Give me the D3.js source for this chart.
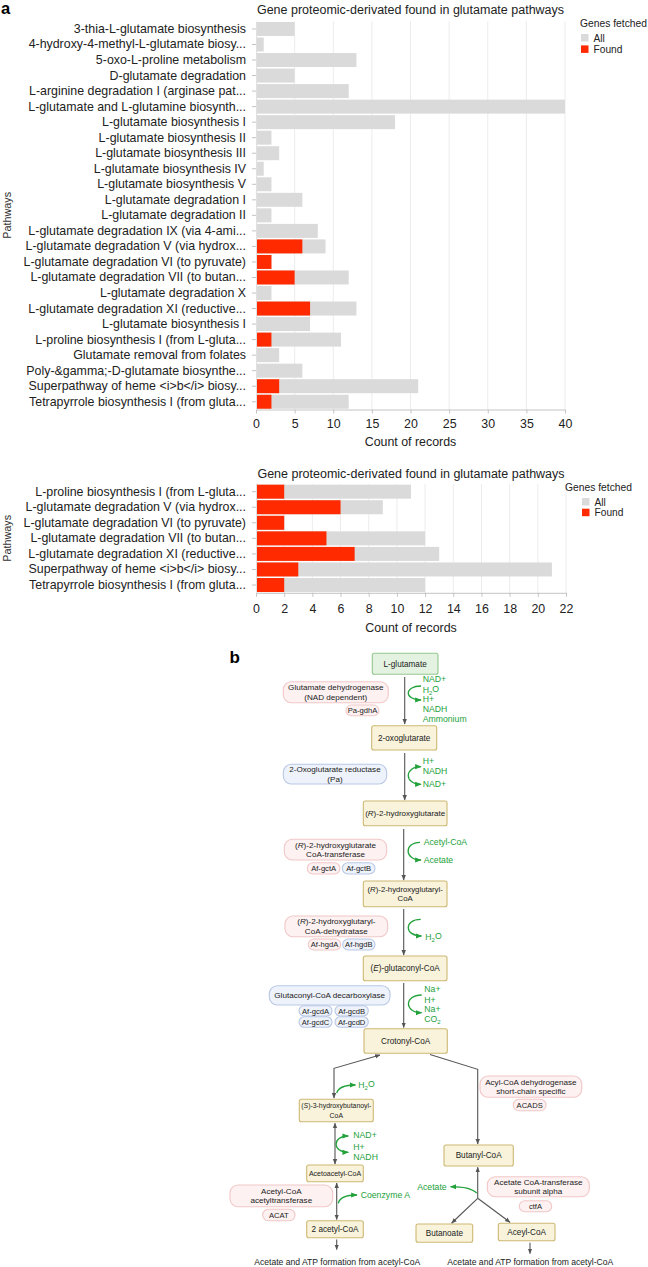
<!DOCTYPE html>
<html>
<head>
<meta charset="utf-8">
<script src="https://cdn.jsdelivr.net/npm/d3@7"></script>
<style>
  body { margin: 0; background: #fff; }
  text { font-family: "Liberation Sans", Arial, Helvetica, sans-serif; }
</style>
</head>
<body>
<svg id="fig" width="648" height="1267"></svg>
<script>
// ---- data: panel a, top chart ----
const pathwaysTop = [
  "3-thia-L-glutamate biosynthesis",
  "4-hydroxy-4-methyl-L-glutamate biosy...",
  "5-oxo-L-proline metabolism",
  "D-glutamate degradation",
  "L-arginine degradation I (arginase pat...",
  "L-glutamate and L-glutamine biosynth...",
  "L-glutamate biosynthesis I",
  "L-glutamate biosynthesis II",
  "L-glutamate biosynthesis III",
  "L-glutamate biosynthesis IV",
  "L-glutamate biosynthesis V",
  "L-glutamate degradation I",
  "L-glutamate degradation II",
  "L-glutamate degradation IX (via 4-ami...",
  "L-glutamate degradation V (via hydrox...",
  "L-glutamate degradation VI (to pyruvate)",
  "L-glutamate degradation VII (to butan...",
  "L-glutamate degradation X",
  "L-glutamate degradation XI (reductive...",
  "L-glutamate biosynthesis I",
  "L-proline biosynthesis I (from L-gluta...",
  "Glutamate removal from folates",
  "Poly-&gamma;-D-glutamate biosynthe...",
  "Superpathway of heme <i>b</i> biosy...",
  "Tetrapyrrole biosynthesis I (from gluta..."
];
const allTop   = [5, 1, 13, 5, 12, 40, 18, 2, 3, 1, 2, 6, 2, 8, 9, 2, 12, 2, 13, 7, 11, 3, 6, 21, 12];
const foundTop = [0, 0, 0, 0, 0, 0, 0, 0, 0, 0, 0, 0, 0, 0, 6, 2, 5, 0, 7, 0, 2, 0, 0, 3, 2];
const ticksTop = [0, 5, 10, 15, 20, 25, 30, 35, 40];

// ---- data: panel a, bottom chart ----
const pathwaysBottom = [
  "L-proline biosynthesis I (from L-gluta...",
  "L-glutamate degradation V (via hydrox...",
  "L-glutamate degradation VI (to pyruvate)",
  "L-glutamate degradation VII (to butan...",
  "L-glutamate degradation XI (reductive...",
  "Superpathway of heme <i>b</i> biosy...",
  "Tetrapyrrole biosynthesis I (from gluta..."
];
const allBottom   = [11, 9, 2, 12, 13, 21, 12];
const foundBottom = [2, 6, 2, 5, 7, 3, 2];
const ticksBottom = [0, 2, 4, 6, 8, 10, 12, 14, 16, 18, 20, 22];

const chartTitle = "Gene proteomic-derivated found in glutamate pathways";
const legendTitle = "Genes fetched";
const seriesNames = ["All", "Found"];
const seriesColors = ["#dadada", "#ff2a00"];

// ---- data: panel b (pathway diagram) ----
const compounds = ["L-glutamate", "2-oxoglutarate", "(R)-2-hydroxyglutarate",
  "(R)-2-hydroxyglutaryl-|CoA", "(E)-glutaconyl-CoA", "Crotonyl-CoA",
  "(S)-3-hydroxybutanoyl-|CoA", "Acetoacetyl-CoA", "2 acetyl-CoA",
  "Butanyl-CoA", "Butanoate", "Aceyl-CoA"];
const enzymes = ["Glutamate dehydrogenase|(NAD dependent)", "2-Oxoglutarate reductase|(Pa)",
  "(R)-2-hydroxyglutarate|CoA-transferase", "(R)-2-hydroxyglutaryl-|CoA-dehydratase",
  "Glutaconyl-CoA decarboxylase", "Acyl-CoA dehydrogenase|short-chain specific",
  "Acetate CoA-transferase|subunit alpha", "Acetyl-CoA|acetyltransferase"];
const genes = ["Pa-gdhA", "Af-gctA", "Af-gctB", "Af-hgdA", "Af-hgdB", "Af-gcdA", "Af-gcdB",
  "Af-gcdC", "Af-gcdD", "ACADS", "ctfA", "ACAT"];
const cofactors = [
  ["NAD+", "H|2|O", "H+", "NADH", "Ammonium"],
  ["H+", "NADH", "NAD+"],
  ["Acetyl-CoA", "Acetate"],
  ["H|2|O"],
  ["Na+", "H+", "Na+", "CO|2|"],
  ["H|2|O"],
  ["NAD+", "H+", "NADH"],
  ["Coenzyme A"],
  ["Acetate"]
];
const outcome = "Acetate and ATP formation from acetyl-CoA";

const svg = d3.select("#fig");
const FONT = "'Liberation Sans', Arial, sans-serif";

// ---------- bar charts ----------
function barChart(cfg) {
  const g = svg.append("g");
  const x = d3.scaleLinear().domain([0, d3.max(cfg.ticks)]).range([cfg.left, cfg.right]);
  const y = d3.scaleBand().domain(d3.range(cfg.labels.length))
    .range([cfg.top, cfg.bottom]).paddingInner(0.1).paddingOuter(0.05);

  // grid
  g.selectAll(".grid").data(cfg.ticks.slice(1)).enter().append("line")
    .attr("x1", d => x(d)).attr("x2", d => x(d))
    .attr("y1", cfg.top).attr("y2", cfg.bottom)
    .attr("stroke", "#ececec").attr("stroke-width", 1);

  // bars: all then found on top
  g.selectAll(".all").data(cfg.all).enter().append("rect")
    .attr("x", x(0)).attr("y", (d, i) => y(i))
    .attr("width", d => x(d) - x(0)).attr("height", y.bandwidth())
    .attr("fill", seriesColors[0]);
  g.selectAll(".found").data(cfg.found).enter().append("rect")
    .attr("x", x(0)).attr("y", (d, i) => y(i))
    .attr("width", d => x(d) - x(0)).attr("height", y.bandwidth())
    .attr("fill", seriesColors[1]);

  // axes
  const ax = g.append("g").attr("transform", `translate(0,${cfg.bottom})`)
    .call(d3.axisBottom(x).tickValues(cfg.ticks).tickSize(4).tickPadding(cfg.tickPad).tickSizeOuter(0));
  ax.select(".domain").attr("stroke", "#c4c4c4");
  ax.selectAll(".tick line").attr("stroke", "#c4c4c4");
  ax.selectAll(".tick text").attr("font-size", 12.4).attr("fill", "#222").style("font-family", FONT);

  const ay = g.append("g").attr("transform", `translate(${cfg.left},0)`)
    .call(d3.axisLeft(y).tickFormat(i => cfg.labels[i]).tickSize(4).tickPadding(6).tickSizeOuter(0));
  ay.select(".domain").attr("stroke", "#e0e0e0");
  ay.selectAll(".tick line").attr("stroke", "#c4c4c4");
  ay.selectAll(".tick text").attr("font-size", 12.4).attr("fill", "#222").style("font-family", FONT);

  // title and axis names
  g.append("text").attr("x", (cfg.left + cfg.right) / 2).attr("y", cfg.titleY)
    .attr("text-anchor", "middle").attr("font-size", 12.5).attr("fill", "#222").text(chartTitle);
  g.append("text").attr("x", (cfg.left + cfg.right) / 2).attr("y", cfg.xLabelY)
    .attr("text-anchor", "middle").attr("font-size", 12.4).attr("fill", "#222").text("Count of records");
  g.append("text").attr("transform", `translate(11,${(cfg.top + cfg.bottom) / 2}) rotate(-90)`)
    .attr("text-anchor", "middle").attr("font-size", 10.8).attr("fill", "#333").text("Pathways");

  // legend
  const lg = g.append("g");
  lg.append("text").attr("x", cfg.legTitleX).attr("y", cfg.legY).attr("font-size", 10.3)
    .attr("fill", "#222").text(legendTitle);
  seriesNames.forEach((s, i) => {
    const yy = cfg.legY + 7 + i * cfg.legStep;
    lg.append("rect").attr("x", cfg.legX).attr("y", yy).attr("width", 7.5).attr("height", 7.5)
      .attr("fill", seriesColors[i]);
    lg.append("text").attr("x", cfg.legX + 12.5).attr("y", yy + 7.5).attr("font-size", 10.2)
      .attr("fill", "#222").text(s);
  });
}

barChart({ labels: pathwaysTop, all: allTop, found: foundTop, ticks: ticksTop,
  left: 256, right: 565, top: 21.2, bottom: 409.5, tickPad: 5.5,
  titleY: 13.8, xLabelY: 446, legTitleX: 580, legX: 581, legY: 27, legStep: 11.4 });

barChart({ labels: pathwaysBottom, all: allBottom, found: foundBottom, ticks: ticksBottom,
  left: 256, right: 566, top: 483.9, bottom: 592.8, tickPad: 7.5,
  titleY: 478.3, xLabelY: 631.5, legTitleX: 565, legX: 582, legY: 491, legStep: 10.7 });

// panel letters
svg.append("text").attr("x", 1).attr("y", 13.5).attr("font-size", 16.5).attr("font-weight", "bold").text("a");
svg.append("text").attr("x", 229.5).attr("y", 662.5).attr("font-size", 17).attr("font-weight", "bold").text("b");

// ---------- panel b: pathway diagram ----------
const green = "#23a13b";
const defs = svg.append("defs");
function marker(id, color) {
  defs.append("marker").attr("id", id).attr("viewBox", "0 0 10 10")
    .attr("refX", 9).attr("refY", 5).attr("markerWidth", 5).attr("markerHeight", 5)
    .attr("markerUnits", "strokeWidth").attr("orient", "auto-start-reverse")
    .append("path").attr("d", "M0,1 L10,5 L0,9 z").attr("fill", color);
}
marker("ag", "#555");
marker("agr", green);

// write label lines; "(R)" style letters in italics, "|" separates lines
function richText(sel, str) {
  const m = str.match(/^\((R|E|S)\)(.*)$/);
  if (m) {
    sel.append("tspan").text("(");
    sel.append("tspan").attr("font-style", "italic").text(m[1]);
    sel.append("tspan").text(")" + m[2]);
  } else sel.text(str);
}
function boxLabel(cx, cy, str, size, lh) {
  const lines = str.split("|");
  lines.forEach((ln, i) => {
    const t = svg.append("text").attr("x", cx)
      .attr("y", cy + (i - (lines.length - 1) / 2) * lh)
      .attr("dy", "0.35em").attr("text-anchor", "middle")
      .attr("font-size", size).attr("fill", "#222");
    richText(t, ln);
  });
}

// layout (x0, y0, x1, y1) for each compound, in diagram pixels
const compoundBoxes = [
  [372.3, 653.3, 438, 674.3], [371.7, 725.7, 436.7, 750], [363.3, 801, 447, 825.7],
  [363.3, 881, 447, 906.7], [363.3, 956, 447, 980.7], [364, 1028.7, 447.3, 1053.3],
  [299.3, 1099.3, 373.3, 1121.7], [306.7, 1165, 363.3, 1181.7], [306.7, 1220.7, 363.3, 1237.7],
  [444, 1145, 513.3, 1166], [416, 1224, 472.7, 1242.3], [498.3, 1223.3, 555, 1240.7]
];
const compoundFont = [8.2, 8.2, 8, 7.8, 8.2, 8.2, 6.9, 7, 8.2, 8.2, 8.2, 8.2];
compounds.forEach((c, i) => {
  const b = compoundBoxes[i];
  svg.append("rect").attr("x", b[0]).attr("y", b[1]).attr("width", b[2] - b[0]).attr("height", b[3] - b[1])
    .attr("rx", 2).attr("fill", i === 0 ? "#e4f2e1" : "#f8f3da")
    .attr("stroke", i === 0 ? "#92c78e" : "#cdb873").attr("stroke-width", 1.1);
  boxLabel((b[0] + b[2]) / 2, (b[1] + b[3]) / 2, c, compoundFont[i], 9.5);
});

const pink = { fill: "#fdf1f1", stroke: "#f2c7c7" };
const blue = { fill: "#eef2fb", stroke: "#b9c7e5" };
const enzymeBoxes = [
  [283.3, 681.7, 388.3, 702.7, pink], [283.3, 764.3, 386.7, 784, blue],
  [284.3, 839.3, 386.7, 860, pink], [285, 916, 387.7, 936.7, pink],
  [269.3, 985.7, 390, 1005, blue], [480, 1076, 581.7, 1097.3, pink],
  [487.3, 1176.7, 589.3, 1196.7, pink], [230, 1185, 332.7, 1206.7, pink]
];
const geneBoxes = [
  [346, 705, 379, 715.7, pink], [307.3, 862.7, 340, 874, pink], [342.3, 862.7, 375, 874, blue],
  [308.3, 939, 340.7, 950, pink], [342.7, 939, 375, 950, blue],
  [299, 1005.7, 332, 1016, blue], [335, 1005.7, 368.3, 1016, blue],
  [299, 1016.7, 332, 1027.3, blue], [335, 1016.7, 368.3, 1027.3, blue],
  [513.3, 1099.3, 546, 1110.7, pink], [519.3, 1200.7, 551.7, 1211.7, pink],
  [262.7, 1209.3, 295, 1220.7, pink]
];
function pill(b) {
  svg.append("rect").attr("x", b[0]).attr("y", b[1]).attr("width", b[2] - b[0]).attr("height", b[3] - b[1])
    .attr("rx", Math.min(8, (b[3] - b[1]) / 2)).attr("fill", b[4].fill)
    .attr("stroke", b[4].stroke).attr("stroke-width", 1.1);
}
enzymes.forEach((e, i) => {
  const b = enzymeBoxes[i];
  pill(b);
  boxLabel((b[0] + b[2]) / 2, (b[1] + b[3]) / 2, e, 8.1, 9.4);
});
genes.forEach((e, i) => {
  const b = geneBoxes[i];
  pill(b);
  boxLabel((b[0] + b[2]) / 2, (b[1] + b[3]) / 2, e, 7.6, 9);
});

// main reaction arrows
const arrowPaths = [
  { p: [[404.7, 677], [404.7, 724]], s: false },
  { p: [[404.7, 753], [404.7, 800]], s: false },
  { p: [[403.7, 829], [403.7, 880]], s: false },
  { p: [[403.7, 909], [403.7, 955]], s: false },
  { p: [[403.7, 983], [403.7, 1027.5]], s: false },
  { p: [[334, 1098], [334, 1068.3], [380, 1055]], s: true },
  { p: [[430, 1054.5], [477.7, 1069.3], [477.7, 1144]], s: false },
  { p: [[335, 1123.3], [335, 1164]], s: true },
  { p: [[336.7, 1183], [336.7, 1219.5]], s: true },
  { p: [[336.7, 1239.5], [336.7, 1249.5]], s: false },
  { p: [[477.7, 1198.3], [477.7, 1167.3]], s: false },
  { p: [[477.7, 1198.3], [451.7, 1223]], s: false },
  { p: [[477.7, 1198.3], [510, 1222.3]], s: false },
  { p: [[530, 1242.7], [530, 1253.5]], s: false }
];
const line = d3.line();
arrowPaths.forEach(a => {
  svg.append("path").attr("d", line(a.p)).attr("fill", "none")
    .attr("stroke", "#555").attr("stroke-width", 1.1)
    .attr("marker-end", "url(#ag)").attr("marker-start", a.s ? "url(#ag)" : null);
});

// cofactor curves
const curves = [
  { d: "M421,686 C404,686 404,700 421,700", s: false },
  { d: "M421,766.7 C404,766.7 404,784.3 421,784.3", s: true },
  { d: "M420,842.3 C404,842.3 404,860 421,860", s: false },
  { d: "M420.7,919.3 C404,919.3 404,936 421.5,936", s: false },
  { d: "M421.7,995 C404,995 404,1012.7 421.7,1012.7", s: false },
  { d: "M336.7,1093 Q339,1085 355.5,1085", s: false },
  { d: "M348.3,1136 C332,1136 332,1152.3 348.3,1152.3", s: true },
  { d: "M338.3,1203.3 Q340,1195 357,1195", s: false },
  { d: "M476.7,1193 Q470,1186.7 450.5,1186.7", s: false }
];
curves.forEach(c => {
  svg.append("path").attr("d", c.d).attr("fill", "none").attr("stroke", green)
    .attr("stroke-width", 1.3).attr("marker-end", "url(#agr)")
    .attr("marker-start", c.s ? "url(#agr)" : null);
});

// cofactor labels: anchor point and line y positions
const cofactorPos = [
  { x: 422.7, ys: [679, 690, 698.7, 709, 719.3] },
  { x: 422.7, ys: [760.7, 771, 784.3] },
  { x: 423.7, ys: [842.3, 860] },
  { x: 425.3, ys: [937.3] },
  { x: 424.3, ys: [989.3, 999.7, 1009.3, 1019.3] },
  { x: 358.3, ys: [1085] },
  { x: 353.3, ys: [1135, 1146.7, 1157.3] },
  { x: 360.7, ys: [1195] },
  { x: 446.7, ys: [1186.7], anchor: "end" }
];
cofactors.forEach((set, i) => {
  const pos = cofactorPos[i];
  set.forEach((lbl, j) => {
    const t = svg.append("text").attr("x", pos.x).attr("y", pos.ys[j]).attr("dy", "0.35em")
      .attr("text-anchor", pos.anchor || "start").attr("font-size", 8.7).attr("fill", green);
    const parts = lbl.split("|");
    t.append("tspan").text(parts[0]);
    if (parts.length > 1) {
      t.append("tspan").attr("font-size", 6).attr("dy", "0.35em").text(parts[1]);
      if (parts[2]) t.append("tspan").attr("dy", "-0.35em").text(parts[2]);
    }
  });
});

// outcome labels
[337.2, 530.3].forEach(cx => {
  svg.append("text").attr("x", cx).attr("y", 1262).attr("dy", "0.35em").attr("text-anchor", "middle")
    .attr("font-size", 8.6).attr("fill", "#222").text(outcome);
});
</script>
</body>
</html>
